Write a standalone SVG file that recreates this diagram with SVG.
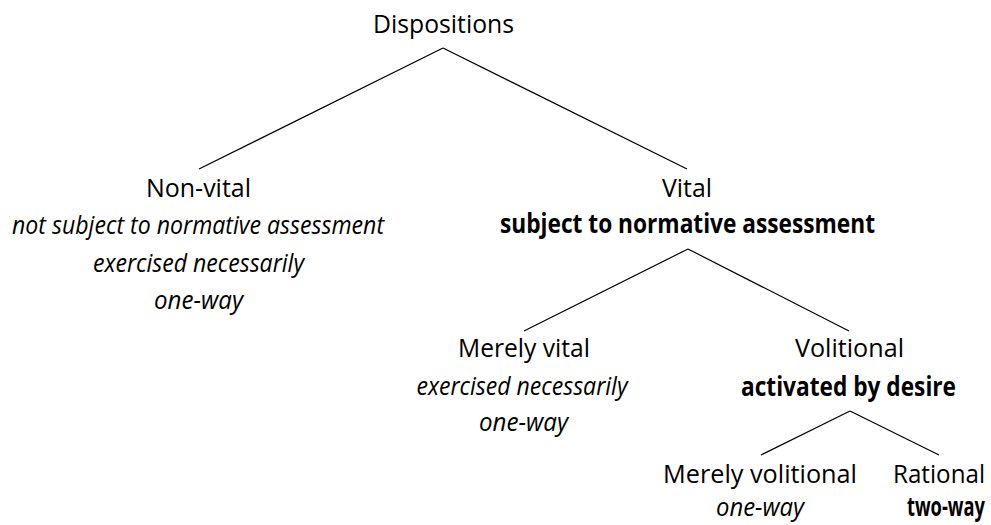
<svg xmlns="http://www.w3.org/2000/svg" width="991" height="525" viewBox="0 0 991 525">
<style>
text{font-family:"Open Sans","Noto Sans","Liberation Sans",sans-serif;font-size:26px;fill:#000;text-anchor:middle}
.i{font-style:italic}
.b{font-weight:bold}
.c line{stroke:#000;stroke-width:1.2;fill:none}
</style>
<rect width="991" height="525" fill="#fff"/>
<g class="c" id="connectors">
<line x1="443" y1="48" x2="199" y2="169"/>
<line x1="443" y1="48" x2="687" y2="169"/>
<line x1="688" y1="249" x2="524" y2="331"/>
<line x1="688" y1="249" x2="849" y2="331"/>
<line x1="850" y1="411" x2="761" y2="455"/>
<line x1="850" y1="411" x2="939" y2="455"/>
</g>
<g id="dispositions"><text x="443.5" y="33" textLength="141" lengthAdjust="spacingAndGlyphs">Dispositions</text></g>
<g id="nonvital">
<text x="198.5" y="197" textLength="105" lengthAdjust="spacingAndGlyphs">Non-vital</text>
<text class="i" x="198" y="234" textLength="372" lengthAdjust="spacingAndGlyphs">not subject to normative assessment</text>
<text class="i" x="198.5" y="272" textLength="211" lengthAdjust="spacingAndGlyphs">exercised necessarily</text>
<text class="i" x="198.5" y="309" textLength="89" lengthAdjust="spacingAndGlyphs">one-way</text>
</g>
<g id="vital">
<text x="687" y="197" textLength="50" lengthAdjust="spacingAndGlyphs">Vital</text>
<text class="b" x="687.5" y="233" textLength="375" lengthAdjust="spacingAndGlyphs">subject to normative assessment</text>
</g>
<g id="merelyvital">
<text x="524" y="357" textLength="132" lengthAdjust="spacingAndGlyphs">Merely vital</text>
<text class="i" x="522" y="395" textLength="211" lengthAdjust="spacingAndGlyphs">exercised necessarily</text>
<text class="i" x="523.5" y="431" textLength="89" lengthAdjust="spacingAndGlyphs">one-way</text>
</g>
<g id="volitional">
<text x="849.5" y="357" textLength="109" lengthAdjust="spacingAndGlyphs">Volitional</text>
<text class="b" x="848.5" y="396" textLength="215" lengthAdjust="spacingAndGlyphs">activated by desire</text>
</g>
<g id="merelyvolitional">
<text x="760" y="483" textLength="194" lengthAdjust="spacingAndGlyphs">Merely volitional</text>
<text class="i" x="760" y="516" textLength="88" lengthAdjust="spacingAndGlyphs">one-way</text>
</g>
<g id="rational">
<text x="939" y="483" textLength="92" lengthAdjust="spacingAndGlyphs">Rational</text>
<text class="b" x="946" y="516" textLength="78" lengthAdjust="spacingAndGlyphs">two-way</text>
</g>
</svg>
